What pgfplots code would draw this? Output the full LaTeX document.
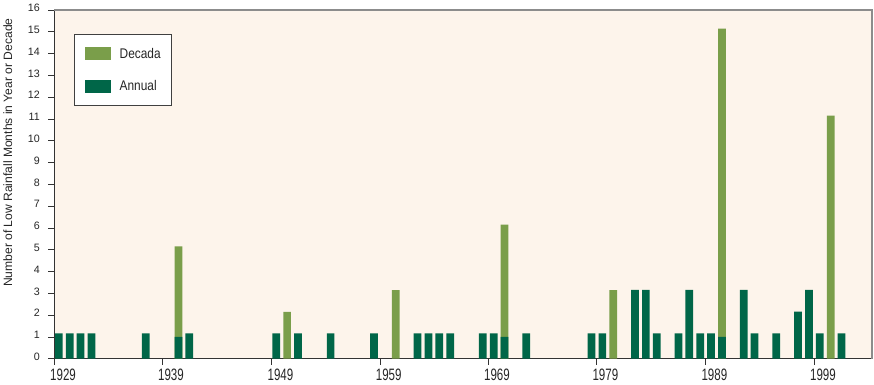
\documentclass[border=0pt]{standalone}
\usepackage{fontspec}
\setmainfont{Liberation Sans}
\newfontfamily\xtfont[FakeStretch=0.7]{Liberation Sans}
\newfontfamily\lgfont[FakeStretch=0.85]{Liberation Sans}
\usepackage{pgfplots}
\pgfplotsset{compat=1.18}
\definecolor{decade}{RGB}{122,158,74}
\definecolor{annual}{RGB}{0,102,72}
\definecolor{bg}{RGB}{253,244,235}
\definecolor{framegray}{RGB}{140,140,140}
\begin{document}
\begin{tikzpicture}
\useasboundingbox (-54pt,-25.3pt) rectangle (820pt,358.7pt);
\begin{axis}[
  at={(0,0)}, anchor=south west,
  scale only axis, width=818pt, height=348.7pt,
  xmin=1928.553, xmax=2003.805, ymin=0, ymax=16,
  ybar, bar width=0.71, bar shift=0pt,
  axis lines*=left,
  axis line style={-, draw=black!80, line width=0.8pt},
  tick align=outside, major tick length=6pt,
  tick style={black!80, line width=0.8pt},
  xtick={1928.585,1938.515,1948.585,1958.545,1968.505,1978.475,1988.505,1998.495},
  xticklabels={1929,1939,1949,1959,1969,1979,1989,1999},
  ytick={0,1,...,16},
  minor tick num=0,
  /pgf/number format/assume math mode=true,
  yticklabel style={font=\fontsize{10.7}{12}\selectfont, text=black!85, anchor=east, inner sep=0pt, xshift=-8pt, yshift=2pt},
  xticklabel style={font=\xtfont\fontsize{16.5}{18}\selectfont, text=black!85, anchor=base, inner sep=0pt, yshift=-15.8pt, xshift=8.7pt},
  ylabel={Number of Low Rainfall Months in Year or Decade},
  ylabel style={at={(axis description cs:-0.0511,0.591)}, anchor=base, font=\fontsize{12.1}{14}\selectfont, text=black!85},
  axis background/.style={fill=bg},
  clip=false,
  legend style={at={(0.0244,0.9303)}, anchor=north west, draw=black!75, line width=0.8pt, fill=white,
    inner xsep=11pt, inner ysep=12.4pt, row sep=19.3pt, column sep=8.6pt,
    font=\lgfont\fontsize{14}{16}\selectfont, text=black!85, nodes={inner sep=0pt, anchor=west}},
  legend cell align=left,
]
\addplot[fill=decade, draw=none, legend image code/.code={\fill[decade] (0pt,-6.65pt) rectangle (25.7pt,6.65pt);}] table[x=year,y=v] {
year v
1940 5.15
1950 2.15
1960 3.15
1970 6.15
1980 3.15
1990 15.15
2000 11.15
};
\addlegendentry{Decada}
\addplot[fill=annual, draw=none, legend image code/.code={\fill[annual] (0pt,-6.65pt) rectangle (25.7pt,6.65pt);}] table[x=year,y=v] {
year v
1929 1.16
1930 1.16
1931 1.16
1932 1.16
1937 1.16
1940 1.0
1941 1.16
1949 1.16
1951 1.16
1954 1.16
1958 1.16
1962 1.16
1963 1.16
1964 1.16
1965 1.16
1968 1.16
1969 1.16
1970 1.0
1972 1.16
1978 1.16
1979 1.16
1982 3.16
1983 3.16
1984 1.16
1986 1.16
1987 3.16
1988 1.16
1989 1.16
1990 1.0
1992 3.16
1993 1.16
1995 1.16
1997 2.16
1998 3.16
1999 1.16
2001 1.16
};
\addlegendentry{Annual}
\draw[framegray, line width=1.5pt] (rel axis cs:0,1) -- (rel axis cs:1,1) -- (rel axis cs:1,0);
\end{axis}
\end{tikzpicture}
\end{document}
